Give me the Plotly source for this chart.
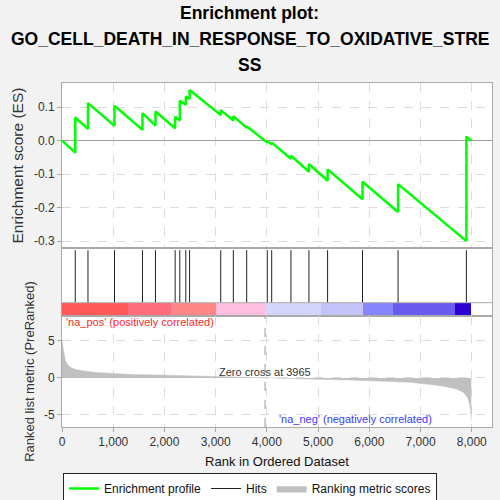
import plotly.graph_objects as go

# ---------------- data ----------------
N_GENES = 7990
ZERO_CROSS = 3965

hit_ranks = [259, 507, 1025, 1571, 1825, 2209, 2300, 2417, 2491, 3099,
             3345, 3606, 4008, 4094, 4470, 4821, 5185, 5867, 6561, 7895]
es_before = [-0.036, 0.035, 0.044, 0.032, 0.045, 0.037, 0.060, 0.107, 0.124, 0.076,
             0.060, 0.038, -0.006, -0.011, -0.054, -0.093, -0.120, -0.175, -0.213, -0.300]
es_after = [0.069, 0.112, 0.104, 0.082, 0.087, 0.071, 0.119, 0.132, 0.151, 0.091,
            0.073, 0.043, -0.002, -0.006, -0.045, -0.070, -0.086, -0.123, -0.130, 0.012]

metric_ranks = [0, 10, 30, 65, 95, 160, 250, 355, 500, 680, 1000, 1395, 2045, 2695,
                3180, 3600, 3965, 4500, 5000, 5620, 6270, 6800, 7050, 7400, 7700,
                7850, 7930, 7965, 7985, 7990]
metric_values = [5.1, 4.4, 3.7, 2.35, 1.9, 1.43, 1.15, 1.0, 0.85, 0.72, 0.6, 0.45, 0.36, 0.22,
                 0.13, 0.06, 0.0, -0.1, -0.2, -0.3, -0.45, -0.6, -0.8, -1.05, -1.5,
                 -2.0, -2.8, -3.8, -5.0, -5.8]

band_edges = [0, 1292, 2131, 3008, 3963, 5055, 5873, 6458, 7667, 7990]
band_colors = ["#ff5858", "#ff6c7c", "#ff8686", "#ffbde0", "#d5d5fb",
               "#c5c1f9", "#8686fe", "#6a5bee", "#2c02d4"]

x_tickvals = [0, 1000, 2000, 3000, 4000, 5000, 6000, 7000, 8000]
x_ticktext = ["0", "1,000", "2,000", "3,000", "4,000", "5,000", "6,000", "7,000", "8,000"]

# ---------------- figure ----------------
FONT = "Liberation Sans, Arial, sans-serif"
GRID = "#dcdcdc"
BORDER = "#a9a9a9"
XR = [0, 8395]

fig = go.Figure()

# enrichment profile
es_x = [0]
es_y = [0.0]
for r, b, a in zip(hit_ranks, es_before, es_after):
    es_x += [r, r]
    es_y += [b, a]
es_x.append(N_GENES)
es_y.append(0.0)
fig.add_trace(go.Scatter(x=es_x, y=es_y, mode="lines", name="Enrichment profile",
                         line=dict(color="#00ff00", width=2.5), xaxis="x", yaxis="y"))

# hits
hx, hy = [], []
for r in hit_ranks:
    hx += [r, r, None]
    hy += [0.196, 0.97, None]
fig.add_trace(go.Scatter(x=hx, y=hy, mode="lines", name="Hits",
                         line=dict(color="#222222", width=1), xaxis="x2", yaxis="y2"))

# color band
starts = band_edges[:-1]
widths = [band_edges[i + 1] - band_edges[i] for i in range(len(starts))]
fig.add_trace(go.Bar(orientation="h", base=starts, x=widths, y=[0.098] * len(starts),
                     width=0.196, marker=dict(color=band_colors, line=dict(width=0)),
                     showlegend=False, hoverinfo="skip", xaxis="x2", yaxis="y2"))

# ranking metric
fig.add_trace(go.Scatter(x=metric_ranks, y=metric_values, mode="lines", fill="tozeroy",
                         name="Ranking metric scores", fillcolor="#c0c0c0",
                         line=dict(color="#c0c0c0", width=0.5), xaxis="x3", yaxis="y3"))

axis_common = dict(range=XR, showline=True, mirror=True, linecolor=BORDER, linewidth=1,
                   zeroline=False, tickvals=x_tickvals, automargin=False)

fig.update_layout(
    width=500, height=500,
    margin=dict(l=62, r=8, t=83, b=73, autoexpand=False),
    paper_bgcolor="#f2f2f2", plot_bgcolor="#ffffff",
    font=dict(family=FONT, size=12, color="#333333"),
    bargap=0,
    xaxis=dict(axis_common, domain=[0, 1], anchor="y", showticklabels=False,
               showgrid=True, gridcolor=GRID, griddash="dash", ticks=""),
    yaxis=dict(domain=[0.520, 1], range=[-0.321, 0.172], anchor="x", automargin=False,
               tickvals=[-0.3, -0.2, -0.1, 0.0, 0.1],
               ticktext=["-0.3", "-0.2", "-0.1", "0.0", "0.1"],
               showline=True, mirror=True, linecolor=BORDER, ticks="outside",
               ticklen=4, tickcolor=BORDER, showgrid=True, gridcolor=GRID, griddash="dash",
               zeroline=True, zerolinecolor="#a0a0a0", zerolinewidth=1,
               title=dict(text="Enrichment score (ES)", font=dict(size=15.5, color="#333333"),
                          standoff=6)),
    xaxis2=dict(axis_common, domain=[0, 1], anchor="y2", showticklabels=False,
                showgrid=False, ticks=""),
    yaxis2=dict(domain=[0.3227, 0.520], range=[0, 1], anchor="x2", showticklabels=False,
                showgrid=False, zeroline=False, showline=True, mirror=True, automargin=False,
                linecolor=BORDER, ticks=""),
    xaxis3=dict(axis_common, domain=[0, 1], anchor="y3", ticktext=x_ticktext,
                ticks="outside", ticklen=4, tickcolor=BORDER,
                showgrid=True, gridcolor=GRID, griddash="dash",
                title=dict(text="Rank in Ordered Dataset", font=dict(size=13, color="#111111"),
                           standoff=8)),
    yaxis3=dict(domain=[0, 0.3227], range=[-6.62, 8.34], anchor="x3", automargin=False,
                tickvals=[-5, 0, 5], ticktext=["-5", "0", "5"],
                showline=True, mirror=True, linecolor=BORDER, ticks="outside",
                ticklen=4, tickcolor=BORDER, showgrid=True, gridcolor=GRID, griddash="dash",
                zeroline=False,
                title=dict(text="Ranked list metric (PreRanked)", font=dict(size=13, color="#333333"),
                           standoff=6)),
    legend=dict(orientation="h", x=0.5, xanchor="center", xref="container",
                y=0.054, yanchor="top", yref="container",
                bgcolor="#ffffff", bordercolor="#222222", borderwidth=1,
                font=dict(size=12, color="#111111"), itemwidth=30, tracegroupgap=0),
    showlegend=True,
)

# separator line on top of the color band
fig.add_shape(type="line", xref="x2 domain", yref="y2", x0=0, x1=1, y0=0.196, y1=0.196,
              line=dict(color=BORDER, width=1))
# zero-cross dashed line
fig.add_shape(type="line", xref="x3", yref="y3 domain", x0=ZERO_CROSS, x1=ZERO_CROSS,
              y0=0, y1=1, line=dict(color="#9a9a9a", width=1, dash="dash"))

# titles
for txt, yp in [("Enrichment plot:", 1.204),
                ("GO_CELL_DEATH_IN_RESPONSE_TO_OXIDATIVE_STRE", 1.128),
                ("SS", 1.053)]:
    fig.add_annotation(text="<b>" + txt + "</b>", xref="paper", yref="paper",
                       x=0.437, y=yp, xanchor="center", yanchor="middle", showarrow=False,
                       font=dict(family=FONT, size=17.5, color="#000000"))

fig.add_annotation(text="'na_pos' (positively correlated)", xref="x3", yref="y3",
                   x=30, y=7.57, xanchor="left", yanchor="middle", showarrow=False,
                   font=dict(size=11, color="#ff2a2a"))
fig.add_annotation(text="'na_neg' (negatively correlated)", xref="x3", yref="y3",
                   x=4191, y=-5.58, xanchor="left", yanchor="middle", showarrow=False,
                   font=dict(size=11, color="#3a3aff"))
fig.add_annotation(text="Zero cross at " + str(ZERO_CROSS), xref="x3", yref="y3",
                   x=ZERO_CROSS, y=0.85, xanchor="center", yanchor="middle", showarrow=False,
                   font=dict(size=11, color="#333333"))

fig.write_html("out.html", config={"displayModeBar": False},
               post_script="document.body.style.margin='0px';"
               "document.body.style.overflow='hidden';")
